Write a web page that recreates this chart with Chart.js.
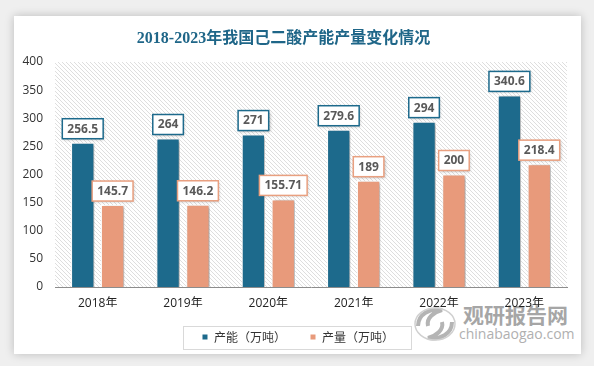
<!DOCTYPE html>
<html>
<head>
<meta charset="utf-8">
<script src="https://cdn.jsdelivr.net/npm/chart.js@4"></script>
<style>
  html, body { margin: 0; padding: 0; }
  body { width: 594px; height: 366px; background: #efefef; position: relative; overflow: hidden; }
  #card { position: absolute; left: 14px; top: 16px; width: 567px; height: 338px; background: #fff;
          box-shadow: 0 0 9px rgba(0,0,0,0.22); }
  #wm { position: absolute; left: 410px; top: 300px; width: 170px; height: 46px; color: #a6a6a6; }
  #wm .cn { position: absolute; left: 53px; top: 2px; font: bold 21px "Noto Sans CJK SC"; line-height: 24px; }
  #wm .en { position: absolute; left: 49px; top: 26px; font: 14px "Open Sans"; line-height: 16px; color: #b0b0b0; }
  #wm svg { position: absolute; left: 2px; top: 4px; }
  #wrap { position: absolute; left: 0; top: 0; width: 594px; height: 366px; }
</style>
</head>
<body>
<div id="card"></div>
<div id="wm">
  <svg width="46" height="40" viewBox="0 0 46 40">
    <path d="M6 22 C6 10 18 4 30 6 C22 8 14 14 16 22" fill="none" stroke="#b4b4b4" stroke-width="4"/>
    <path d="M40 18 C40 30 28 36 16 34 C24 32 32 26 30 18" fill="none" stroke="#b4b4b4" stroke-width="4"/>
    <ellipse cx="23" cy="20" rx="20" ry="16" fill="none" stroke="#d0d0d0" stroke-width="1.5"/>
  </svg>
  <div class="cn">观研报告网</div>
  <div class="en">chinabaogao.com</div>
</div>
<div id="wrap"><canvas id="chart" width="594" height="366"></canvas></div>
<script>
const years = ['2018年', '2019年', '2020年', '2021年', '2022年', '2023年'];
const capacity = [256.5, 264, 271, 279.6, 294, 340.6];
const output = [145.7, 146.2, 155.71, 189, 200, 218.4];
const labelsCapacity = ['256.5', '264', '271', '279.6', '294', '340.6'];
const labelsOutput = ['145.7', '146.2', '155.71', '189', '200', '218.4'];

const blue = '#1d6a8c';
const orange = '#e89a7b';
const baseFont = "'Open Sans', 'Noto Sans CJK SC', sans-serif";

// diagonal hatch behind the plot area
function makeHatch() {
  const c = document.createElement('canvas');
  c.width = 4; c.height = 4;
  const g = c.getContext('2d');
  g.fillStyle = '#fff';
  g.fillRect(0, 0, 4, 4);
  g.strokeStyle = '#dedede';
  g.lineWidth = 1;
  g.beginPath();
  g.moveTo(-1, -1); g.lineTo(5, 5);
  g.moveTo(-1, 3); g.lineTo(1, 5);
  g.moveTo(3, -1); g.lineTo(5, 1);
  g.stroke();
  return c;
}

const hatchPlugin = {
  id: 'hatch',
  beforeDatasetsDraw(chart) {
    const {ctx, chartArea: a} = chart;
    ctx.save();
    ctx.fillStyle = ctx.createPattern(makeHatch(), 'repeat');
    ctx.fillRect(a.left, a.top, a.right - a.left, a.bottom - a.top);
    ctx.restore();
    // shadow for the bars
    ctx.save();
    ctx.shadowColor = 'rgba(0,0,0,0.35)';
    ctx.shadowBlur = 3;
    ctx.shadowOffsetX = 2;
    ctx.shadowOffsetY = 1;
  },
  afterDatasetsDraw(chart) {
    chart.ctx.restore();
  }
};

const valueBoxes = {
  id: 'valueBoxes',
  afterDatasetsDraw(chart) {
    const ctx = chart.ctx;
    const texts = [labelsCapacity, labelsOutput];
    ctx.save();
    ctx.font = "bold 12px 'Open Sans', sans-serif";
    chart.data.datasets.forEach((ds, di) => {
      const meta = chart.getDatasetMeta(di);
      meta.data.forEach((bar, i) => {
        const t = texts[di][i];
        const w = ctx.measureText(t).width + 10;
        const h = 20;
        const x = bar.x - w / 2;
        const y = bar.y - 4 - h;
        ctx.save();
        ctx.shadowColor = 'rgba(0,0,0,0.3)';
        ctx.shadowBlur = 3;
        ctx.shadowOffsetX = 1;
        ctx.shadowOffsetY = 1;
        ctx.fillStyle = '#fff';
        ctx.fillRect(x, y, w, h);
        ctx.restore();
        ctx.strokeStyle = di === 0 ? blue : '#e9a080';
        ctx.lineWidth = 1.5;
        ctx.strokeRect(x, y, w, h);
        ctx.fillStyle = '#595959';
        ctx.textAlign = 'center';
        ctx.textBaseline = 'middle';
        ctx.fillText(t, bar.x, y + h / 2 + 0.5);
      });
    });
    ctx.restore();
  }
};

// nudge the legend a bit to the right and frame it
const legendFrame = {
  id: 'legendFrame',
  afterLayout(chart) {
    chart.legend.left += 14.5;
    chart.legend.right += 14.5;
  },
  afterDraw(chart) {
    const hb = chart.legend.legendHitBoxes;
    if (!hb || !hb.length) return;
    const last = hb[hb.length - 1];
    const left = hb[0].left - 19;
    const right = last.left + last.width + 17;
    const mid = hb[0].top + hb[0].height / 2;
    const ctx = chart.ctx;
    ctx.save();
    ctx.strokeStyle = '#d9d9d9';
    ctx.lineWidth = 1;
    ctx.strokeRect(Math.round(left) + 0.5, Math.round(mid - 11.5) + 0.5, Math.round(right - left), 23);
    ctx.restore();
  }
};

new Chart(document.getElementById('chart'), {
  type: 'bar',
  data: {
    labels: years,
    datasets: [{
      label: '产能（万吨）',
      data: capacity,
      backgroundColor: blue,
      borderColor: '#fff',
      borderWidth: 1,
      categoryPercentage: 0.7,
      barPercentage: 0.78
    }, {
      label: '产量（万吨）',
      data: output,
      backgroundColor: orange,
      borderColor: '#fff',
      borderWidth: 1,
      categoryPercentage: 0.7,
      barPercentage: 0.78
    }]
  },
  options: {
    responsive: false,
    animation: false,
    layout: { padding: { top: 0, right: 27, bottom: 13, left: 0 } },
    plugins: {
      title: {
        display: true,
        text: '2018-2023年我国己二酸产能产量变化情况',
        color: '#1f6688',
        font: { family: "'Liberation Serif', 'Noto Sans CJK SC', serif", size: 16, weight: 'bold', lineHeight: 1.2 },
        padding: { top: 29.4, bottom: 13.4 }
      },
      legend: {
        position: 'bottom',
        labels: {
          boxWidth: 6,
          boxHeight: 6,
          padding: 24,
          color: '#333',
          font: { family: "'Noto Sans CJK SC', sans-serif", size: 12 }
        }
      },
      tooltip: { enabled: false }
    },
    scales: {
      x: {
        grid: { display: false, drawTicks: false },
        border: { display: true, color: '#8c8c8c', width: 1 },
        ticks: { color: '#222', padding: 9, font: { family: baseFont, size: 12 } },
        afterFit(scale) { scale.height = 20; }
      },
      y: {
        min: 0,
        max: 400,
        ticks: { stepSize: 50, color: '#333', padding: 12, font: { family: baseFont, size: 12 } },
        grid: { display: false, drawTicks: false },
        border: { display: false },
        afterFit(scale) { scale.width = 55; }
      }
    }
  },
  plugins: [hatchPlugin, valueBoxes, legendFrame]
});
</script>
</body>
</html>
